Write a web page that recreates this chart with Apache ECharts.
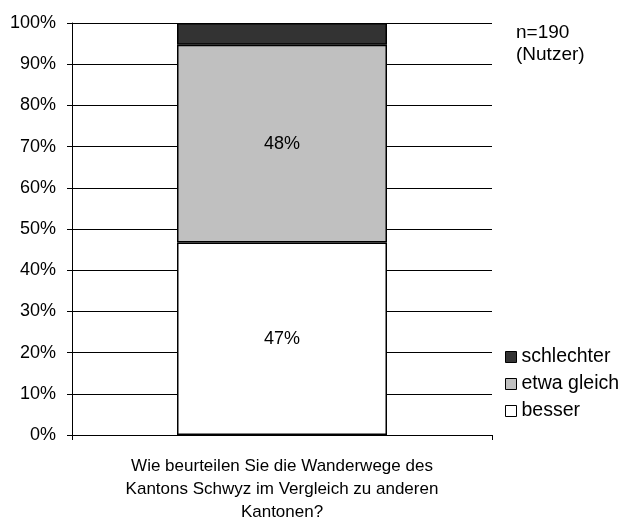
<!DOCTYPE html>
<html>
<head>
<meta charset="utf-8">
<script src="https://cdn.jsdelivr.net/npm/echarts@6/dist/echarts.min.js"></script>
<style>
  html, body { margin: 0; padding: 0; background: #fff; }
  #chart { width: 622px; height: 521px; }
</style>
</head>
<body>
<div id="chart"></div>
<script>
const categories = ["Wie beurteilen Sie die Wanderwege des\nKantons Schwyz im Vergleich zu anderen\nKantonen?"];
const besser = [46.7];
const etwaGleich = [48.0];
const schlechter = [5.3];
const besserLabels = ["47%"];
const etwaLabels = ["48%"];
const yTicks = [0, 10, 20, 30, 40, 50, 60, 70, 80, 90, 100];

const font = "Liberation Sans, Arial, sans-serif";

const chart = echarts.init(document.getElementById("chart"));

function barSeries(name, data, color, labels) {
  return {
    name: name,
    type: "bar",
    stack: "total",
    data: data,
    barWidth: "50%",
    itemStyle: { color: color, borderColor: "#000", borderWidth: 1.5 },
    label: {
      show: !!labels,
      position: "inside",
      color: "#000",
      fontFamily: font,
      fontSize: 18,
      formatter: (p) => (labels ? labels[p.dataIndex] : "")
    },
    emphasis: { disabled: true },
    animation: false
  };
}

chart.setOption({
  animation: false,
  grid: { left: 72, right: 130, top: 23, bottom: 86, outerBoundsMode: "none", containLabel: false },
  legend: {
    orient: "vertical",
    left: 505,
    top: 347,
    padding: 0,
    itemWidth: 11,
    itemHeight: 11,
    itemGap: 7,
    icon: "rect",
    data: ["schlechter", "etwa gleich", "besser"],
    textStyle: { fontFamily: font, fontSize: 19.5, color: "#000" },
    itemStyle: { borderColor: "#000", borderWidth: 1 }
  },
  graphic: [{
    type: "text",
    left: 516,
    top: 22,
    style: { text: "n=190\n(Nutzer)", font: "19px " + font, fill: "#000", lineHeight: 22 }
  }],
  xAxis: {
    type: "category",
    data: categories,
    axisLine: { lineStyle: { color: "#000" } },
    axisTick: { show: true, length: 5, lineStyle: { color: "#000" } },
    axisLabel: {
      color: "#000",
      fontFamily: font,
      fontSize: 17,
      lineHeight: 23,
      margin: 20,
      align: "center"
    }
  },
  yAxis: {
    type: "value",
    min: 0,
    max: 100,
    interval: 10,
    axisLine: { show: true, lineStyle: { color: "#000" } },
    axisTick: { show: true, length: 5, lineStyle: { color: "#000" } },
    splitLine: { show: true, lineStyle: { color: "#000", width: 1 } },
    axisLabel: {
      color: "#000",
      fontFamily: font,
      fontSize: 18,
      margin: 16,
      formatter: (v) => (yTicks.includes(v) ? v + "%" : "")
    }
  },
  series: [
    barSeries("besser", besser, "#ffffff", besserLabels),
    barSeries("etwa gleich", etwaGleich, "#c0c0c0", etwaLabels),
    barSeries("schlechter", schlechter, "#333333", null)
  ]
});
</script>
</body>
</html>
